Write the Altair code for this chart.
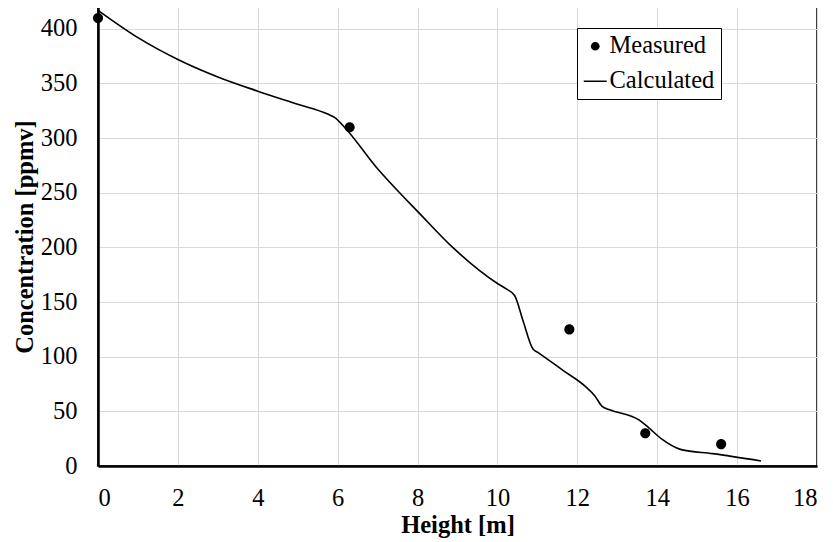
import altair as alt
import pandas as pd

# Measured points
meas_x = [0.0, 6.3, 11.8, 13.7, 15.6]
meas_y = [410, 310, 125, 30, 20]

# Calculated curve
calc_x = [0.0, 1.0, 2.0, 3.0, 4.0, 5.0, 5.75, 5.92, 6.17, 7.0, 7.55, 8.0, 8.88,
          10.0, 10.22, 10.43, 10.64, 10.89, 11.01, 11.64, 12.22, 12.43, 12.62,
          12.81, 13.56, 13.77, 14.1, 14.6, 15.39, 16.6]
calc_y = [417, 392, 372, 356, 343, 331, 322, 319, 310, 272, 250, 233, 200,
          167, 162, 156, 133, 107, 104, 87.5, 72.2, 64.6, 54.6,
          51.5, 41.8, 35.6, 25, 15, 11.3, 4.6]

series_names = ["Measured", "Calculated"]
x_ticks = [0, 2, 4, 6, 8, 10, 12, 14, 16, 18]
y_ticks = [0, 50, 100, 150, 200, 250, 300, 350, 400]

meas = pd.DataFrame({"x": meas_x, "y": meas_y, "series": "Measured"})
calc = pd.DataFrame({"x": calc_x, "y": calc_y})

FONT = "Liberation Serif"
FS = 24.5

circle_path = "M 0.38 0 A 0.38 0.38 0 1 1 -0.38 0 A 0.38 0.38 0 1 1 0.38 0 Z"
stroke_path = "M -1 -0.065 L 1 -0.065 L 1 0.065 L -1 0.065 Z"

xenc = alt.X("x:Q", scale=alt.Scale(domain=[0, 18], nice=False),
             axis=alt.Axis(values=x_ticks, title="Height [m]", grid=True,
                           ticks=False, tickSize=0, labelPadding=39,
                           labelBaseline="alphabetic", titleY=66,
                           titleBaseline="alphabetic"))
yenc = alt.Y("y:Q", scale=alt.Scale(domain=[0, 420], nice=False),
             axis=alt.Axis(values=y_ticks, title="Concentration [ppmv]", grid=True,
                           ticks=False, tickSize=0, labelPadding=21,
                           titleX=-65.5, titleY=229.5, titleBaseline="alphabetic"))

line = alt.Chart(calc).mark_line(color="black", strokeWidth=1.6,
                                 interpolate="monotone").encode(x=xenc, y=yenc)

points = alt.Chart(meas).mark_point(filled=True, color="black", size=700,
                                    opacity=1).encode(
    x=xenc, y=yenc,
    shape=alt.Shape("series:N",
                    scale=alt.Scale(domain=series_names,
                                    range=[circle_path, stroke_path]),
                    legend=alt.Legend(title=None, orient="none",
                                      legendX=479, legendY=21,
                                      symbolSize=529,
                                      symbolFillColor="black",
                                      symbolStrokeWidth=0,
                                      symbolOpacity=1,
                                      labelFont=FONT, labelFontSize=FS,
                                      labelColor="black", labelOffset=2,
                                      rowPadding=10, padding=6,
                                      strokeColor="black", fillColor="white")))

chart = alt.layer(line, points).properties(
    width=719, height=459,
    autosize=alt.AutoSizeParams(type="none"),
    padding={"left": 90, "top": -1, "right": 8, "bottom": 76},
).configure_view(stroke="black", strokeWidth=1.5).configure_axis(
    labelFont=FONT, labelFontSize=FS, labelColor="black",
    titleFont=FONT, titleFontSize=FS, titleColor="black", titleFontWeight="bold",
    domainColor="black", domainWidth=2.5,
    gridColor="#d9d9d9", gridWidth=1,
)

chart.save("out.html", embed_options={"renderer": "svg", "actions": False})
